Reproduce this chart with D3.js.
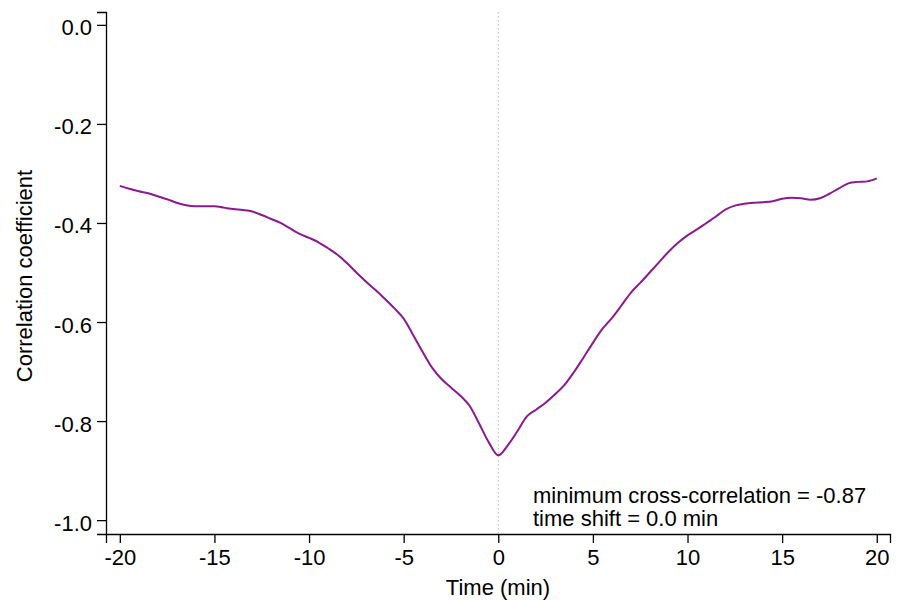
<!DOCTYPE html>
<html>
<head>
<meta charset="utf-8">
<script src="https://cdn.jsdelivr.net/npm/d3@7"></script>
<style>
  body { margin: 0; background: #fff; }
  svg text { font-family: "Liberation Sans", Arial, Helvetica, sans-serif; fill: #000; }
</style>
</head>
<body>
<svg id="mainsvg" width="897" height="601"></svg>
<script>
// time shift (min) and cross-correlation
const lags = [-20,-19.5,-19,-18.5,-18,-17.5,-17,-16.5,-16,-15.5,-15,-14.5,-14,-13.5,-13,-12.5,-12,-11.5,-11,-10.5,
  -10,-9.5,-9,-8.5,-8,-7.5,-7,-6.5,-6,-5.5,-5,-4.5,-4,-3.5,-3,-2.5,-2,-1.5,-1,-0.5,
  0,0.5,1,1.5,2,2.5,3,3.5,4,4.5,5,5.5,6,6.5,7,7.5,8,8.5,9,9.5,
  10,10.5,11,11.5,12,12.5,13,13.5,14,14.5,15,15.5,16,16.5,17,17.5,18,18.5,19,19.5,20];
const corr = [-0.325,-0.331,-0.336,-0.340,-0.346,-0.352,-0.359,-0.364,-0.366,-0.366,-0.366,-0.369,-0.372,-0.374,-0.377,-0.384,-0.392,-0.400,-0.411,-0.422,
  -0.430,-0.439,-0.451,-0.464,-0.481,-0.500,-0.518,-0.535,-0.553,-0.572,-0.593,-0.626,-0.660,-0.692,-0.715,-0.732,-0.749,-0.770,-0.806,-0.843,
  -0.869,-0.849,-0.821,-0.791,-0.777,-0.763,-0.746,-0.727,-0.701,-0.672,-0.642,-0.614,-0.592,-0.567,-0.541,-0.521,-0.500,-0.479,-0.458,-0.440,
  -0.425,-0.413,-0.400,-0.387,-0.373,-0.365,-0.361,-0.359,-0.358,-0.356,-0.351,-0.349,-0.350,-0.353,-0.350,-0.341,-0.330,-0.320,-0.317,-0.316,-0.310];
const xTicks = [-20,-15,-10,-5,0,5,10,15,20];
const yTicks = [0,-0.2,-0.4,-0.6,-0.8,-1.0];
const noteLines = ['minimum cross-correlation = -0.87', 'time shift = 0.0 min'];
const bestLag = 0;

var svg = d3.select('#mainsvg');
var data = lags.map((t, i) => ({t: t, r: corr[i]}));
var fs = 22;

var x = d3.scaleLinear().domain([-20.73, 20.7]).range([106, 890]);
var y = d3.scaleLinear().domain([-1.028, 0.026]).range([534, 12]);

// axes
var xAxis = svg.append('g')
    .attr('transform', 'translate(0,534)')
    .call(d3.axisBottom(x).tickValues(xTicks).tickSizeOuter(0).tickSize(9).tickPadding(6));
var yAxis = svg.append('g')
    .attr('transform', 'translate(106,0)')
    .call(d3.axisLeft(y).tickValues(yTicks).tickSizeOuter(0).tickSize(9).tickPadding(5));
[xAxis, yAxis].forEach(a => {
  a.select('.domain').attr('stroke', '#000').attr('stroke-width', 1.3);
  a.selectAll('.tick line').attr('stroke', '#000').attr('stroke-width', 1.3);
  a.selectAll('.tick text').attr('font-size', fs).style('font-family', '"Liberation Sans", Arial, sans-serif');
});
// plain hyphen as minus, like the original
yAxis.selectAll('.tick text').attr('dy', 10).text(d => d3.format('.1f')(d).replace('−', '-'));
xAxis.selectAll('.tick text').text(d => String(d));

// zero lag reference line
svg.append('line')
    .attr('x1', x(bestLag)).attr('x2', x(bestLag))
    .attr('y1', 12).attr('y2', 534)
    .attr('stroke', '#bbb').attr('stroke-width', 1)
    .attr('stroke-dasharray', '1.5,2.5');

// the curve
svg.append('path')
    .datum(data)
    .attr('fill', 'none')
    .attr('stroke', '#8b1a8f')
    .attr('stroke-width', 2)
    .attr('d', d3.line().x(d => x(d.t)).y(d => y(d.r)).curve(d3.curveMonotoneX));

// titles
svg.append('text')
    .attr('x', 498).attr('y', 595)
    .attr('text-anchor', 'middle').attr('font-size', fs)
    .text('Time (min)');
svg.append('text')
    .attr('transform', 'translate(32,276) rotate(-90)')
    .attr('text-anchor', 'middle').attr('font-size', fs)
    .text('Correlation coefficient');

// note
svg.append('g').selectAll('text')
    .data(noteLines)
    .enter().append('text')
    .attr('x', 533)
    .attr('y', (d, i) => 503 + i * 23)
    .attr('font-size', fs)
    .text(d => d);
</script>
</body>
</html>
